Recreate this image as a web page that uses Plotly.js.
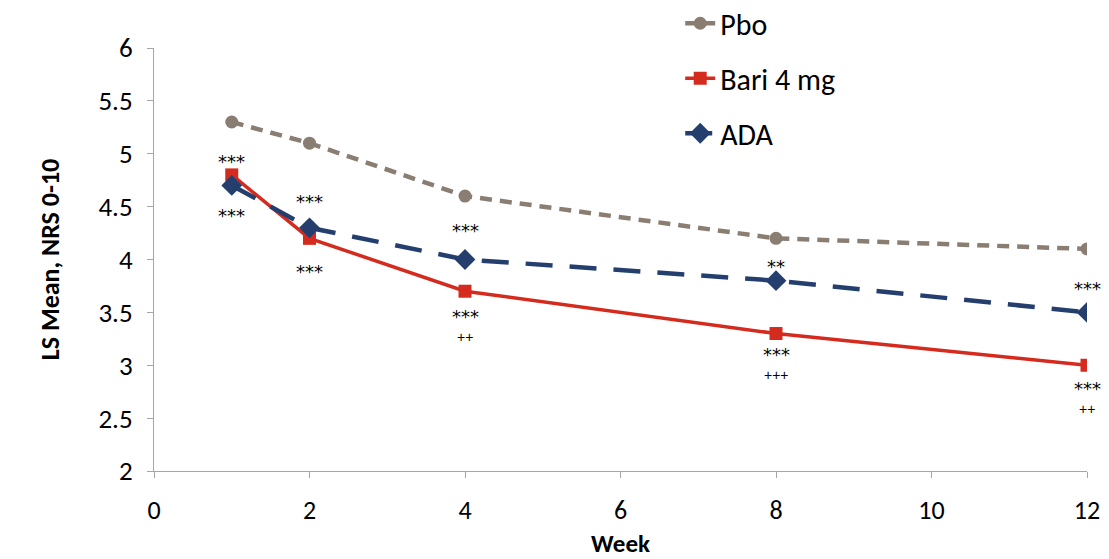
<!DOCTYPE html>
<html>
<head>
<meta charset="utf-8">
<script src="https://cdn.plot.ly/plotly-3.0.1.min.js"></script>
<style>html,body{margin:0;padding:0;background:#fff;}#chart{width:1109px;height:559px;}</style>
</head>
<body>
<div id="chart"></div>
<script>
const weeks = [1, 2, 4, 8, 12];
const pbo = [5.3, 5.1, 4.6, 4.2, 4.1];
const bari = [4.8, 4.2, 3.7, 3.3, 3.0];
const ada = [4.7, 4.3, 4.0, 3.8, 3.5];
const seriesNames = ['Pbo', 'Bari 4 mg', 'ADA'];
const xTicks = [0, 2, 4, 6, 8, 10, 12];
const yTicks = [2, 2.5, 3, 3.5, 4, 4.5, 5, 5.5, 6];

// significance labels (y = approximate centre of the glyphs)
const sigX = [1, 1, 2, 2, 4, 4, 4, 8, 8, 8, 12, 12, 12];
const sigY = [4.96, 4.45, 4.59, 3.92, 4.31, 3.43, 3.28, 3.97, 3.08, 2.91, 3.76, 2.75, 2.59];
const sigText = ['***', '***', '***', '***', '***', '***', '++', '**', '***', '+++', '***', '***', '++'];

const font = 'Carlito, Calibri, Lato, "Open Sans", sans-serif';

const traces = [
  {x: weeks, y: pbo, name: seriesNames[0], mode: 'lines+markers', legendgroup: 'a',
   line: {color: '#8a7d72', width: 4.5, dash: '12px,8px'},
   marker: {symbol: 'circle', size: 13, color: '#8a7d72'}},
  {x: weeks, y: bari, name: seriesNames[1], mode: 'lines+markers', legendgroup: 'b',
   line: {color: '#d52b1e', width: 3.5},
   marker: {symbol: 'square', size: 13, color: '#d52b1e'}},
  {x: weeks, y: ada, name: seriesNames[2], mode: 'lines+markers', legendgroup: 'c',
   line: {color: '#243f6e', width: 4.5, dash: '27px,17px'},
   marker: {symbol: 'diamond', size: 16, color: '#243f6e'}}
];

const starFont = {family: '"DejaVu Sans", sans-serif', size: 18, color: '#000'};
const plusFont = {family: '"Liberation Sans", Arial, sans-serif', size: 14, color: '#000'};

const annotations = sigX.map((x, i) => {
  const isPlus = sigText[i].startsWith('+');
  const ann = {x: x, y: sigY[i], text: sigText[i], showarrow: false, borderpad: 0,
               xanchor: 'center', yanchor: 'middle', font: isPlus ? plusFont : starFont};
  const pairedBelow = i + 1 < sigX.length && sigX[i + 1] === x && sigText[i + 1].startsWith('+');
  if (isPlus) {
    ann.y = (sigY[i - 1] + sigY[i]) / 2;
    ann.yanchor = 'top';
  } else if (pairedBelow) {
    ann.y = (sigY[i] + sigY[i + 1]) / 2;
    ann.yanchor = 'bottom';
  } else {
    ann.yshift = -4;
  }
  return ann;
});

const layout = {
  width: 1109, height: 559,
  margin: {l: 154, r: 22, t: 48, b: 88, autoexpand: false},
  paper_bgcolor: '#fff', plot_bgcolor: '#fff',
  font: {family: font, color: '#000'},
  showlegend: true,
  legend: {x: 0.564, y: 1.12, xanchor: 'left', yanchor: 'top',
           font: {family: font, size: 30, color: '#000'},
           tracegroupgap: 13, bgcolor: 'rgba(0,0,0,0)'},
  xaxis: {range: [0, 12], tickvals: xTicks, ticktext: xTicks.map(String),
          showgrid: false, zeroline: false, showline: true, linecolor: '#a6a6a6', linewidth: 1,
          ticks: 'outside', ticklen: 6, tickcolor: '#a6a6a6',
          tickfont: {family: font, size: 26, color: '#000'}, ticklabelstandoff: 10,
          title: {text: '<b>Week</b>', font: {family: font, size: 25, color: '#000'}, standoff: 13}},
  yaxis: {range: [2, 6], tickvals: yTicks, ticktext: yTicks.map(String),
          showgrid: false, zeroline: false, showline: true, linecolor: '#a6a6a6', linewidth: 1,
          ticks: 'outside', ticklen: 6, tickcolor: '#a6a6a6',
          tickfont: {family: font, size: 27, color: '#000'}, ticklabelstandoff: 9,
          title: {text: '<b>LS Mean, NRS 0-10</b>', font: {family: font, size: 26, color: '#000'}, standoff: 31}},
  annotations: annotations
};

Plotly.newPlot('chart', traces, layout, {displayModeBar: false, staticPlot: true});
</script>
</body>
</html>
